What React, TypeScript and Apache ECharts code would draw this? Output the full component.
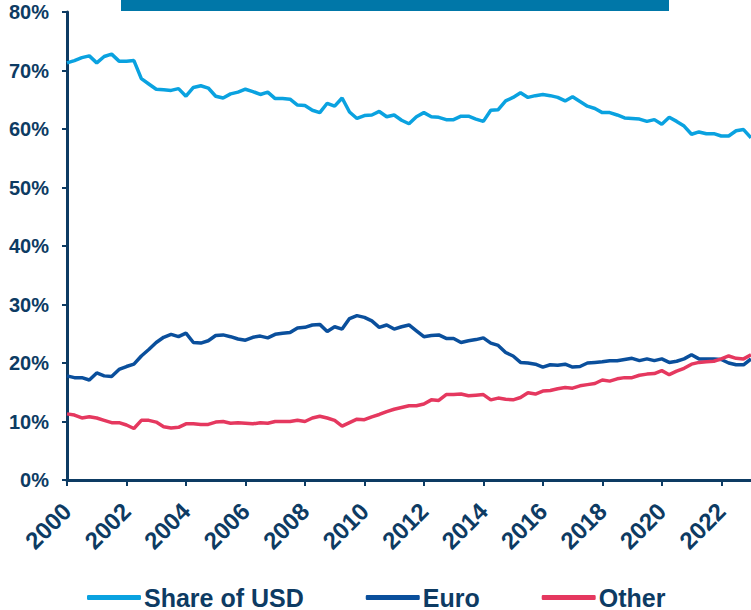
import React, { useEffect, useRef } from "react";
import * as echarts from "echarts";

const startYear = 2000;
const quarterCount = 93;
const quarters: string[] = [];
for (let i = 0; i < quarterCount; i++) {
  quarters.push(`${startYear + Math.floor(i / 4)} Q${(i % 4) + 1}`);
}

const usdShare = [
  71.3, 71.7, 72.2, 72.5, 71.3, 72.4, 72.8, 71.6, 71.6, 71.7,
  68.6, 67.7, 66.8, 66.7, 66.6, 66.9, 65.6, 67.1, 67.4, 67.0,
  65.6, 65.3, 66.0, 66.3, 66.8, 66.4, 65.9, 66.3, 65.2, 65.2,
  65.1, 64.1, 64.0, 63.2, 62.8, 64.4, 63.9, 65.3, 62.9, 61.8,
  62.3, 62.4, 63.0, 62.1, 62.4, 61.5, 60.9, 62.1, 62.8, 62.1,
  62.0, 61.6, 61.6, 62.2, 62.2, 61.7, 61.3, 63.2, 63.3, 64.8,
  65.4, 66.2, 65.4, 65.7, 65.9, 65.7, 65.4, 64.8, 65.5, 64.7,
  63.9, 63.5, 62.8, 62.8, 62.4, 61.9, 61.8, 61.7, 61.3, 61.6,
  60.8, 62.0, 61.3, 60.5, 59.1, 59.5, 59.2, 59.2, 58.8, 58.8,
  59.7, 59.9, 58.5,
];

const euroShare = [
  17.8, 17.5, 17.5, 17.1, 18.3, 17.8, 17.7, 18.9, 19.4, 19.8,
  21.2, 22.3, 23.5, 24.4, 24.9, 24.5, 25.1, 23.5, 23.4, 23.8,
  24.7, 24.8, 24.5, 24.1, 23.9, 24.4, 24.6, 24.3, 24.9, 25.1,
  25.2, 26.0, 26.1, 26.5, 26.6, 25.4, 26.2, 25.8, 27.6, 28.1,
  27.8, 27.2, 26.1, 26.5, 25.8, 26.2, 26.5, 25.5, 24.5, 24.7,
  24.8, 24.2, 24.2, 23.5, 23.8, 24.0, 24.3, 23.4, 23.0, 21.8,
  21.2, 20.1, 20.0, 19.8, 19.3, 19.7, 19.6, 19.8, 19.3, 19.4,
  20.0, 20.1, 20.2, 20.4, 20.4, 20.6, 20.8, 20.4, 20.7, 20.4,
  20.7, 20.1, 20.3, 20.7, 21.4, 20.7, 20.7, 20.7, 20.6, 20.0,
  19.7, 19.7, 20.7,
];

const otherShare = [
  11.3, 11.1, 10.6, 10.8, 10.6, 10.2, 9.8, 9.8, 9.4, 8.8,
  10.2, 10.2, 9.9, 9.1, 8.9, 9.0, 9.6, 9.6, 9.5, 9.5,
  9.9, 10.0, 9.7, 9.8, 9.7, 9.6, 9.8, 9.7, 10.0, 10.0,
  10.0, 10.2, 10.0, 10.6, 10.9, 10.6, 10.2, 9.2, 9.8, 10.4,
  10.3, 10.8, 11.2, 11.7, 12.1, 12.4, 12.7, 12.7, 13.0, 13.7,
  13.6, 14.6, 14.6, 14.7, 14.4, 14.5, 14.6, 13.7, 14.0, 13.8,
  13.7, 14.1, 14.9, 14.7, 15.2, 15.3, 15.6, 15.8, 15.7, 16.1,
  16.3, 16.5, 17.1, 16.9, 17.3, 17.5, 17.5, 17.9, 18.1, 18.2,
  18.7, 18.0, 18.6, 19.1, 19.8, 20.1, 20.2, 20.3, 20.7, 21.2,
  20.8, 20.7, 21.4,
];

const seriesNames = ["Share of USD", "Euro", "Other"];
const yTicks = [0, 10, 20, 30, 40, 50, 60, 70, 80];

const NAVY = "#0d3b63";
const FONT = "'Liberation Sans', Arial, sans-serif";

export default function App() {
  const ref = useRef<HTMLDivElement>(null);

  useEffect(() => {
    document.body.style.margin = "0";
    if (!ref.current) return;
    const chart = echarts.init(ref.current, null, { renderer: "svg" });
    chart.setOption({
      animation: false,
      backgroundColor: "#ffffff",
      textStyle: { fontFamily: FONT },
      grid: { left: 67, right: 0, top: 12, bottom: 130, containLabel: false },
      graphic: [
        {
          type: "rect",
          shape: { x: 121, y: 0, width: 548, height: 11 },
          style: { fill: "#0077a8" },
          silent: true,
        },
      ],
      legend: {
        data: seriesNames,
        left: 82,
        top: 580,
        icon: "roundRect",
        itemWidth: 54,
        itemHeight: 5,
        itemGap: 62,
        textStyle: {
          color: NAVY,
          fontSize: 25,
          fontWeight: "bold",
          fontFamily: FONT,
          padding: [0, 0, 0, -2],
        },
      },
      xAxis: {
        type: "category",
        data: quarters,
        boundaryGap: false,
        axisLine: { show: true, lineStyle: { color: NAVY, width: 3 } },
        axisTick: {
          show: true,
          interval: 7,
          length: 6,
          lineStyle: { color: NAVY, width: 2 },
        },
        axisLabel: {
          interval: 7,
          rotate: 45,
          margin: 27,
          color: NAVY,
          fontSize: 24,
          fontWeight: "bold",
          fontFamily: FONT,
          formatter: (v: string) => v.slice(0, 4),
        },
        splitLine: { show: false },
      },
      yAxis: {
        type: "value",
        min: yTicks[0],
        max: yTicks[yTicks.length - 1],
        interval: 10,
        axisLine: { show: true, lineStyle: { color: NAVY, width: 3 } },
        axisTick: { show: true, length: 5, lineStyle: { color: NAVY, width: 2 } },
        axisLabel: {
          margin: 18,
          color: NAVY,
          fontSize: 20,
          fontWeight: "bold",
          fontFamily: FONT,
          formatter: "{value}%",
        },
        splitLine: { show: false },
      },
      series: [
        {
          name: seriesNames[0],
          type: "line",
          data: usdShare,
          symbol: "none",
          color: "#0aa2e0",
          lineStyle: { width: 3.5, color: "#0aa2e0" },
        },
        {
          name: seriesNames[1],
          type: "line",
          data: euroShare,
          symbol: "none",
          color: "#0a4f9c",
          lineStyle: { width: 3.5, color: "#0a4f9c" },
        },
        {
          name: seriesNames[2],
          type: "line",
          data: otherShare,
          symbol: "none",
          color: "#e5385f",
          lineStyle: { width: 3.5, color: "#e5385f" },
        },
      ],
    });
    return () => chart.dispose();
  }, []);

  return <div ref={ref} style={{ width: 751, height: 610 }} />;
}
